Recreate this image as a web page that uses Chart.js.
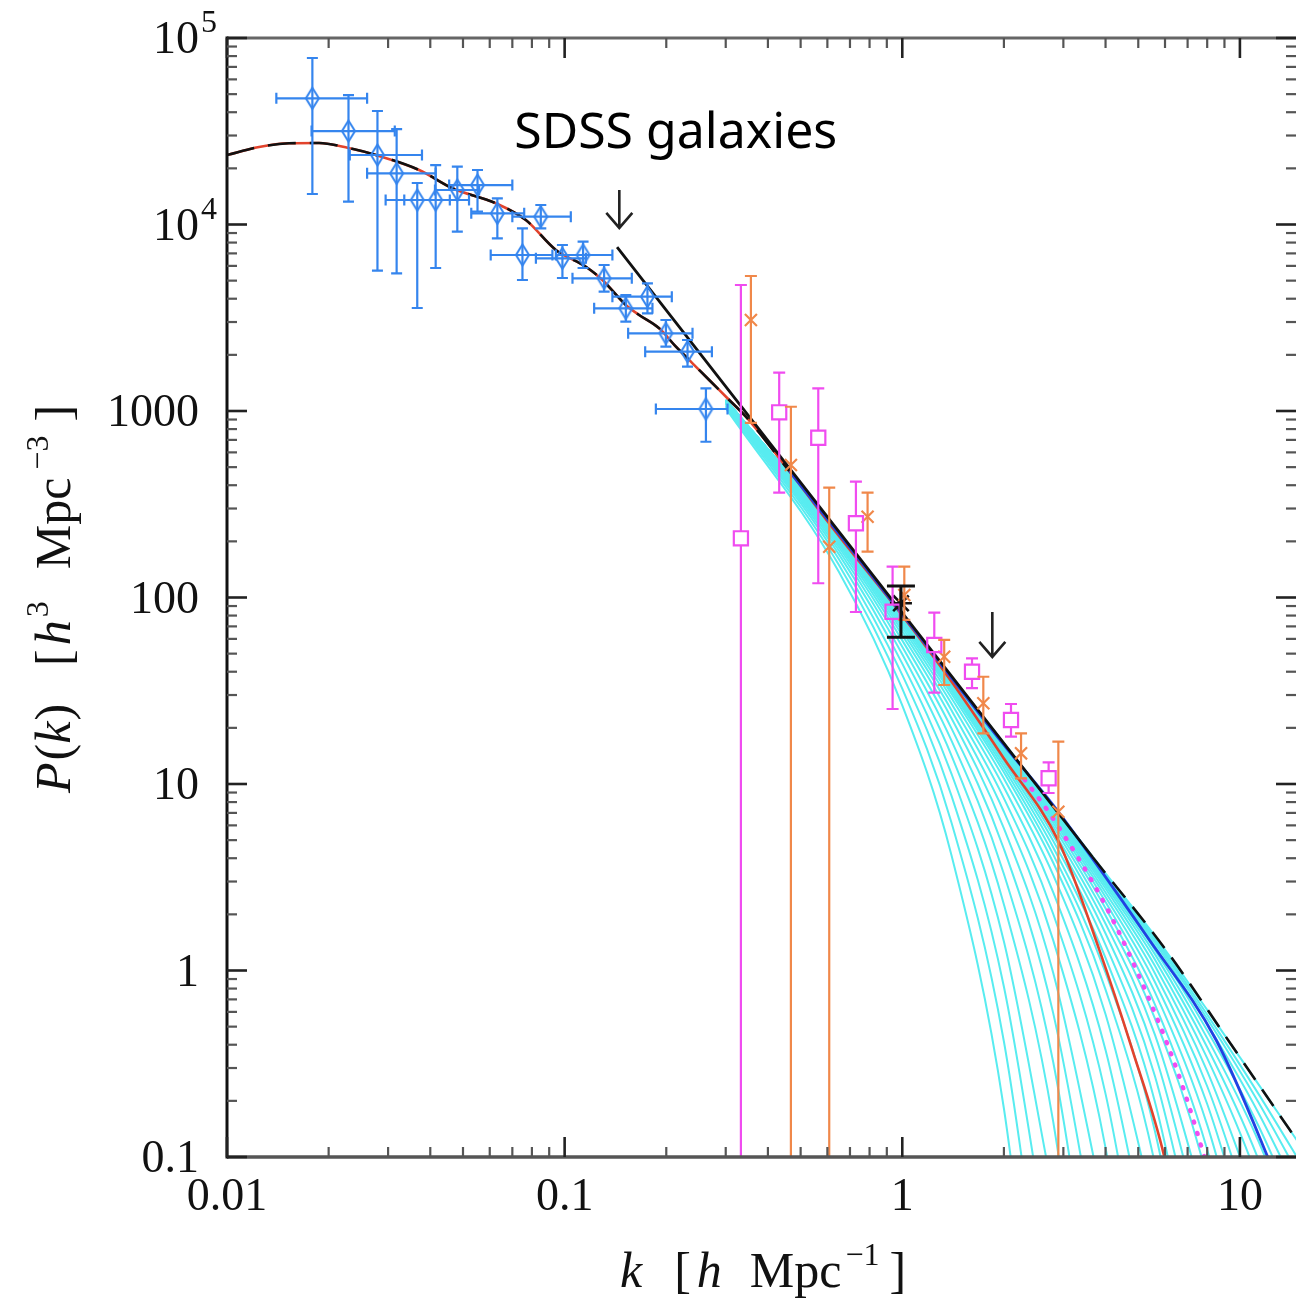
<!DOCTYPE html>
<html>
<head>
<meta charset="utf-8">
<script src="https://cdn.jsdelivr.net/npm/chart.js@4.4.0/dist/chart.umd.min.js"></script>
<style>
  html, body { margin: 0; padding: 0; background: #fff; }
  canvas { display: block; }
</style>
</head>
<body>
<canvas id="pk" width="1296" height="1304"></canvas>
<script>
// SDSS galaxies (blue diamonds, with k error bars)
const sdssK   = [0.0179, 0.0229, 0.0279, 0.0318, 0.0366, 0.0415, 0.0481, 0.0552, 0.0632, 0.0850, 0.0750, 0.0985, 0.1134, 0.1309, 0.1518, 0.1759, 0.1995, 0.2312, 0.2621];
const sdssP   = [47500, 31700, 23590, 18810, 13530, 13530, 15310, 16280, 11480, 11010, 6863, 6589, 6863, 5146, 3553, 4102, 2610, 2080, 1025];
const sdssLo  = [14570, 13260, 5652, 5475, 3566, 5846, 9151, 11710, 8433, 9541, 5039, 5165, 5846, 4362, 3012, 3341, 2212, 1728, 684];
const sdssHi  = [78100, 49450, 40600, 32500, 16690, 20840, 20420, 19600, 13820, 12720, 9541, 7762, 8085, 6065, 4188, 4838, 3075, 2403, 1323];
const sdssKlo = [0.0140, 0.0178, 0.0231, 0.0260, 0.0295, 0.0335, 0.0413, 0.0455, 0.0529, 0.0700, 0.0604, 0.0822, 0.0942, 0.1055, 0.1223, 0.1385, 0.1542, 0.1732, 0.1863];
const sdssKhi = [0.0260, 0.0314, 0.0378, 0.0415, 0.0457, 0.0521, 0.0558, 0.0700, 0.0759, 0.1043, 0.0920, 0.1156, 0.1385, 0.1581, 0.1820, 0.2077, 0.2392, 0.2730, 0.3037];

// magenta squares
const magK  = [0.3327, 0.4320, 0.5639, 0.7290, 0.9361, 1.244, 1.609, 2.099, 2.713];
const magP  = [207.7, 984, 719, 250, 83.9, 55.6, 40.0, 22.04, 10.73];
const magLo = [0.01, 364.7, 119.2, 83.6, 25.24, 30.9, 32.7, 17.93, 8.95];
const magHi = [4739, 1605, 1323, 417.7, 146.3, 82.9, 47.2, 26.85, 13.07];

// orange crosses
const oraK  = [0.3562, 0.4679, 0.6077, 0.7893, 1.014, 1.331, 1.738, 2.248, 2.899];
const oraP  = [3075, 513.5, 187.3, 271.2, 103.1, 48.1, 27.08, 14.6, 7.10];
const oraLo = [862.6, 0.01, 0.01, 176.1, 75.8, 33.95, 18.7, 10.73, 0.01];
const oraHi = [5294, 1054, 388, 364.7, 146.3, 59.2, 37.6, 18.7, 16.86];

// black star
const starK  = [0.991];
const starP  = [93.1];
const starLo = [61.2];
const starHi = [115.3];

// model curves
const wiggleK = [0.01, 0.01244, 0.01527, 0.01873, 0.02288, 0.0276, 0.03707, 0.04652, 0.06254, 0.07674, 0.09417, 0.1156, 0.1294, 0.1518, 0.1662, 0.1905, 0.2136, 0.2392, 0.268, 0.3072, 0.3442, 0.4625];
const wiggleP = [23590, 26030, 27250, 27350, 25720, 23590, 19600, 15640, 13000, 10570, 7300, 5939, 5039, 3702, 3271, 2776, 2212, 1802, 1466, 1146, 932, 476.8];
const redTailK = [0.65, 1.0, 1.4, 2.0, 2.919, 3.834, 4.802, 5.974, 6.6];
const redTailP = [213, 80, 35.3, 13.7, 4.83, 1.29, 0.375, 0.1, 0.04];
const blueK = [0.4625, 1.0, 2.0, 2.854, 5.394, 8.503, 12.09, 13.5];
const blueP = [476.8, 81.2, 16.2, 7.35, 1.457, 0.424, 0.1, 0.06];
const linK = [0.143, 0.3442, 1.0, 3.66];
const linP = [7570, 984, 82.6, 4.06];
const dashK = [3.66, 6.04, 9.52, 12.8, 14.66];
const dashP = [4.06, 1.288, 0.390, 0.1786, 0.125];
const dotK = [2.3, 2.726, 4.014, 5.394, 6.694, 7.848, 8.5];
const dotP = [10.6, 6.99, 2.198, 0.695, 0.2534, 0.1, 0.06];

// cyan family, sampled at cyanK
const cyanK = [0.3, 0.65, 1.0, 1.4, 2.0, 2.8, 4.0, 5.6, 8.0, 11.3, 16];
const cyanP = [
  [1037, 136.5, 26.4, 4.12, 0.182, 0.0011],
  [1057, 148.9, 32.5, 6.18, 0.416, 0.0056],
  [1073, 160, 38.5, 8.61, 0.818, 0.021],
  [1087, 169.7, 44.2, 11.3, 1.43, 0.0627],
  [1098, 178.1, 49.6, 14.17, 2.26, 0.1542, 0.00116],
  [1107, 185.3, 54.5, 17.04, 3.29, 0.322, 0.0052],
  [1115, 191.4, 58.9, 19.82, 4.48, 0.589, 0.0178],
  [1121, 196.7, 62.7, 22.45, 5.78, 0.971, 0.0494],
  [1126, 200.9, 66.0, 24.8, 7.10, 1.45, 0.112, 0.002],
  [1131, 204.5, 68.8, 26.9, 8.38, 2.01, 0.218, 0.0074],
  [1134, 207.5, 71.2, 28.8, 9.60, 2.62, 0.375, 0.0214],
  [1137, 210, 73.2, 30.4, 10.7, 3.25, 0.583, 0.0508],
  [1139, 211.6, 74.6, 31.5, 11.56, 3.78, 0.790, 0.092, 0.002],
  [1140, 212.8, 75.5, 32.3, 12.18, 4.18, 0.973, 0.138, 0.0045],
  [1141, 213.8, 76.4, 33.1, 12.75, 4.57, 1.168, 0.198, 0.0094],
  [1142, 214.7, 77.2, 33.7, 13.28, 4.95, 1.373, 0.272, 0.018],
  [1143, 215.5, 77.9, 34.3, 13.75, 5.30, 1.579, 0.358, 0.0315],
  [1144, 216.2, 78.5, 34.8, 14.17, 5.62, 1.781, 0.453, 0.051],
  [1145, 216.8, 79.0, 35.3, 14.54, 5.92, 1.974, 0.554, 0.077, 0.0039],
  [1145, 217.3, 79.4, 35.7, 14.87, 6.18, 2.157, 0.659, 0.1097, 0.008],
  [1146, 217.7, 79.8, 36.0, 15.15, 6.41, 2.327, 0.765, 0.1486, 0.0146],
  [1146, 218.1, 80.1, 36.3, 15.39, 6.62, 2.48, 0.868, 0.1923, 0.0244],
  [1147, 218.4, 80.4, 36.5, 15.61, 6.80, 2.62, 0.967, 0.2395, 0.0378],
  [1147, 218.7, 80.6, 36.7, 15.79, 6.96, 2.75, 1.06, 0.289, 0.0549],
  [1147, 218.9, 80.8, 36.9, 15.95, 7.09, 2.86, 1.146, 0.3387, 0.0755, 0.0091],
  [1148, 219.1, 81.0, 37.1, 16.09, 7.21, 2.96, 1.224, 0.3878, 0.0988, 0.0157],
  [1148, 219.3, 81.1, 37.2, 16.2, 7.31, 3.04, 1.293, 0.4338, 0.1237, 0.0246],
  [1148, 219.4, 81.2, 37.3, 16.3, 7.39, 3.11, 1.354, 0.477, 0.1493, 0.0358],
  [1148, 219.5, 81.3, 37.4, 16.4, 7.47, 3.18, 1.408, 0.516, 0.1748, 0.0491],
  [1148, 219.6, 81.4, 37.4, 16.4, 7.53, 3.23, 1.453, 0.551, 0.199, 0.0637],
  [1148, 219.8, 81.5, 37.5, 16.5, 7.57, 3.27, 1.491, 0.580, 0.2207, 0.0784],
  [1148, 219.8, 81.5, 37.6, 16.56, 7.63, 3.32, 1.535, 0.615, 0.248, 0.0993]
];

// axis ticks
const xTickVals = [0.01, 0.1, 1, 10];
const xTickText = ['0.01', '0.1', '1', '10'];
const yTickVals = [1e5, 1e4, 1000, 100, 10, 1, 0.1];
const yTickText = ['10', '10', '1000', '100', '10', '1', '0.1'];
const yTickSup  = ['5', '4', '', '', '', '', ''];

const CYAN = '#58ecf0';
const BLUE_PTS = '#3585ee';
const MAGENTA = '#f04cf0';
const ORANGE = '#f0884a';
const RED = '#e2432c';
const BLUE_LINE = '#2242e2';
const SERIF = '"Liberation Serif", "DejaVu Serif", serif';

function pts(ks, ps) {
    return ps.map((p, i) => ({x: ks[i], y: p}));
}

function lozenge(w, h, color, lw) {
    const c = document.createElement('canvas');
    c.width = w + lw * 2;
    c.height = h + lw * 2;
    const g = c.getContext('2d');
    const cx = c.width / 2, cy = c.height / 2;
    g.strokeStyle = color;
    g.lineWidth = lw;
    g.beginPath();
    g.moveTo(cx, cy - h / 2);
    g.lineTo(cx + w / 2, cy);
    g.lineTo(cx, cy + h / 2);
    g.lineTo(cx - w / 2, cy);
    g.closePath();
    g.stroke();
    return c;
}

function curve(data, color, width, order, extra) {
    return Object.assign({
        data: data,
        borderColor: color,
        borderWidth: width,
        pointRadius: 0,
        fill: false,
        cubicInterpolationMode: 'monotone',
        order: order
    }, extra || {});
}

function markers(ks, ps, style, color, radius, width) {
    return {
        data: pts(ks, ps),
        showLine: false,
        pointStyle: style,
        pointRadius: radius,
        pointBorderColor: color,
        pointBackgroundColor: 'rgba(0,0,0,0)',
        pointBorderWidth: width,
        order: 0
    };
}

const datasets = [];
cyanP.forEach(row => datasets.push(curve(pts(cyanK, row), CYAN, 2, 10)));
datasets.push(curve(pts(dotK, dotP), MAGENTA, 4.5, 8, {borderDash: [1, 11], borderCapStyle: 'round'}));
datasets.push(curve(pts(wiggleK.concat(redTailK), wiggleP.concat(redTailP)), RED, 2.6, 7));
datasets.push(curve(pts(blueK, blueP), BLUE_LINE, 2.8, 6));
datasets.push(curve(pts(linK, linP), '#111', 2.8, 5, {cubicInterpolationMode: 'default', tension: 0}));
datasets.push(curve(pts(dashK, dashP), '#111', 2.6, 5, {borderDash: [20, 12]}));
datasets.push(curve(pts(wiggleK, wiggleP), '#111', 2.6, 4, {borderDash: [28, 14]}));
datasets.push(markers(sdssK, sdssP, lozenge(13, 21, BLUE_PTS, 2), BLUE_PTS, 6, 2));
datasets.push(markers(magK, magP, 'rect', MAGENTA, 10, 2.2));
datasets.push(markers(oraK, oraP, 'crossRot', ORANGE, 8.5, 2.2));
datasets.push(markers(starK, starP, 'star', '#111', 11, 2.6));

const errorSets = [
    {k: sdssK, p: sdssP, lo: sdssLo, hi: sdssHi, klo: sdssKlo, khi: sdssKhi, color: BLUE_PTS, width: 2.2, cap: 5.5, gap: 0},
    {k: magK, p: magP, lo: magLo, hi: magHi, color: MAGENTA, width: 2.2, cap: 6, gap: 7},
    {k: oraK, p: oraP, lo: oraLo, hi: oraHi, color: ORANGE, width: 2.2, cap: 6, gap: 0},
    {k: starK, p: starP, lo: starLo, hi: starHi, color: '#111', width: 3, cap: 14, gap: 0}
];

function drawErrors(chart, set) {
    const {ctx, chartArea: a} = chart;
    const xs = chart.scales.x, ys = chart.scales.y;
    ctx.save();
    ctx.beginPath();
    ctx.rect(a.left, a.top, a.right - a.left, a.bottom - a.top);
    ctx.clip();
    ctx.strokeStyle = set.color;
    ctx.lineWidth = set.width;
    for (let i = 0; i < set.k.length; i++) {
        const px = xs.getPixelForValue(set.k[i]);
        const py = ys.getPixelForValue(set.p[i]);
        const top = ys.getPixelForValue(set.hi[i]);
        const bot = ys.getPixelForValue(set.lo[i]);
        ctx.beginPath();
        ctx.moveTo(px, top); ctx.lineTo(px, py - set.gap);
        ctx.moveTo(px, py + set.gap); ctx.lineTo(px, bot);
        ctx.moveTo(px - set.cap, top); ctx.lineTo(px + set.cap, top);
        ctx.moveTo(px - set.cap, bot); ctx.lineTo(px + set.cap, bot);
        if (set.klo) {
            const l = xs.getPixelForValue(set.klo[i]);
            const r = xs.getPixelForValue(set.khi[i]);
            ctx.moveTo(l, py); ctx.lineTo(r, py);
            ctx.moveTo(l, py - set.cap); ctx.lineTo(l, py + set.cap);
            ctx.moveTo(r, py - set.cap); ctx.lineTo(r, py + set.cap);
        }
        ctx.stroke();
    }
    ctx.restore();
}

// text made of roman / italic / superscript pieces, each with a gap before it
function richText(ctx, parts, x, y, size, supSize, rise) {
    const fontOf = s => (s === 'i' ? 'italic ' : '') + (s === 's' ? supSize : size) + 'px ' + SERIF;
    let cx = x;
    ctx.textAlign = 'left';
    ctx.textBaseline = 'alphabetic';
    parts.forEach(([t, s, gap]) => {
        cx += gap || 0;
        ctx.font = fontOf(s);
        ctx.fillText(t, cx, y - (s === 's' ? rise : 0));
        cx += ctx.measureText(t).width;
    });
}

// annotation anchors, in data units
const noteK = 0.0709, noteP = 25700;
const arrowK = [0.1452, 1.848];
const arrowFromP = [15300, 83.6];
const arrowToP = [9580, 48.0];

const decorations = {
    id: 'decorations',
    afterDatasetsDraw(chart) {
        errorSets.forEach(s => drawErrors(chart, s));
    },
    afterDraw(chart) {
        const {ctx, chartArea: a} = chart;
        const xs = chart.scales.x, ys = chart.scales.y;
        ctx.save();

        // frame
        ctx.lineCap = 'butt';
        ctx.strokeStyle = '#666';
        ctx.lineWidth = 3;
        ctx.beginPath(); ctx.moveTo(a.left, a.top); ctx.lineTo(a.right, a.top); ctx.stroke();
        ctx.strokeStyle = '#555';
        ctx.lineWidth = 3.5;
        ctx.beginPath(); ctx.moveTo(a.left, a.bottom); ctx.lineTo(a.right, a.bottom); ctx.stroke();
        ctx.strokeStyle = '#111';
        ctx.lineWidth = 3;
        ctx.beginPath(); ctx.moveTo(a.left, a.top - 1.5); ctx.lineTo(a.left, a.bottom + 1.5); ctx.stroke();

        // ticks, pointing inwards on all sides
        const tick = (x1, y1, x2, y2, major) => {
            ctx.strokeStyle = major ? '#222' : '#555';
            ctx.lineWidth = major ? 2.6 : 2.2;
            ctx.beginPath(); ctx.moveTo(x1, y1); ctx.lineTo(x2, y2); ctx.stroke();
        };
        for (let e = -2; e <= 1; e++) {
            for (let m = 1; m <= 9; m++) {
                const v = m * Math.pow(10, e);
                if (v > xs.max) continue;
                const px = xs.getPixelForValue(v);
                const len = m === 1 ? 20 : 10;
                tick(px, a.bottom, px, a.bottom - len, m === 1);
                tick(px, a.top, px, a.top + len, m === 1);
            }
        }
        for (let e = -1; e <= 5; e++) {
            for (let m = 1; m <= 9; m++) {
                const v = m * Math.pow(10, e);
                if (v > ys.max) continue;
                const py = ys.getPixelForValue(v);
                const len = m === 1 ? 20 : 10;
                tick(a.left, py, a.left + len, py, m === 1);
                tick(a.right, py, a.right - len, py, m === 1);
            }
        }

        // tick labels
        ctx.fillStyle = '#111';
        xTickVals.forEach((v, i) => {
            ctx.font = '46px ' + SERIF;
            ctx.textAlign = 'center';
            ctx.textBaseline = 'alphabetic';
            ctx.fillText(xTickText[i], xs.getPixelForValue(v), a.bottom + 53);
        });
        yTickVals.forEach((v, i) => {
            const py = ys.getPixelForValue(v) + 15;
            ctx.font = '46px ' + SERIF;
            ctx.textAlign = 'right';
            ctx.textBaseline = 'alphabetic';
            ctx.fillText(yTickText[i], 199, py);
            if (yTickSup[i]) {
                ctx.font = '32px ' + SERIF;
                ctx.textAlign = 'left';
                ctx.fillText(yTickSup[i], 201, py - 21);
            }
        });

        // axis titles
        richText(ctx, [['k', 'i'], ['[', 'r', 32], ['h', 'i', 6], ['Mpc', 'r', 28], ['\u22121', 's', 4], [']', 'r', 10]],
            620, 1287, 50, 32, 22);
        ctx.save();
        ctx.translate(70, 793);
        ctx.rotate(-Math.PI / 2);
        richText(ctx, [['P', 'i'], ['(', 'r', 2], ['k', 'i'], [')', 'r', 1], ['[', 'r', 38], ['h', 'i', 4], ['3', 's', 3],
            ['Mpc', 'r', 32], ['\u22123', 's', 8], [']', 'r', 14]], 0, 0, 50, 32, 22);
        ctx.restore();

        // annotation
        ctx.fillStyle = '#000';
        ctx.font = '50px "Comic Sans MS", "Noto Sans", sans-serif';
        ctx.textAlign = 'left';
        ctx.textBaseline = 'alphabetic';
        ctx.fillText('SDSS galaxies', xs.getPixelForValue(noteK), ys.getPixelForValue(noteP));

        ctx.strokeStyle = '#222';
        ctx.lineWidth = 2.6;
        ctx.lineJoin = 'miter';
        arrowK.forEach((k, i) => {
            const px = xs.getPixelForValue(k);
            const y0 = ys.getPixelForValue(arrowFromP[i]);
            const y1 = ys.getPixelForValue(arrowToP[i]);
            ctx.beginPath();
            ctx.moveTo(px, y0); ctx.lineTo(px, y1);
            ctx.moveTo(px - 13, y1 - 15); ctx.lineTo(px, y1); ctx.lineTo(px + 13, y1 - 15);
            ctx.stroke();
        });
        ctx.restore();
    }
};

new Chart(document.getElementById('pk').getContext('2d'), {
    type: 'line',
    data: {datasets: datasets},
    options: {
        responsive: false,
        animation: false,
        devicePixelRatio: 1,
        layout: {autoPadding: false, padding: {left: 227, top: 38, right: 0, bottom: 147}},
        plugins: {
            legend: {display: false},
            title: {display: false},
            tooltip: {enabled: false}
        },
        scales: {
            x: {type: 'logarithmic', min: 0.01, max: 14.66, display: false},
            y: {type: 'logarithmic', min: 0.1, max: 1e5, display: false}
        }
    },
    plugins: [decorations]
});
</script>
</body>
</html>
